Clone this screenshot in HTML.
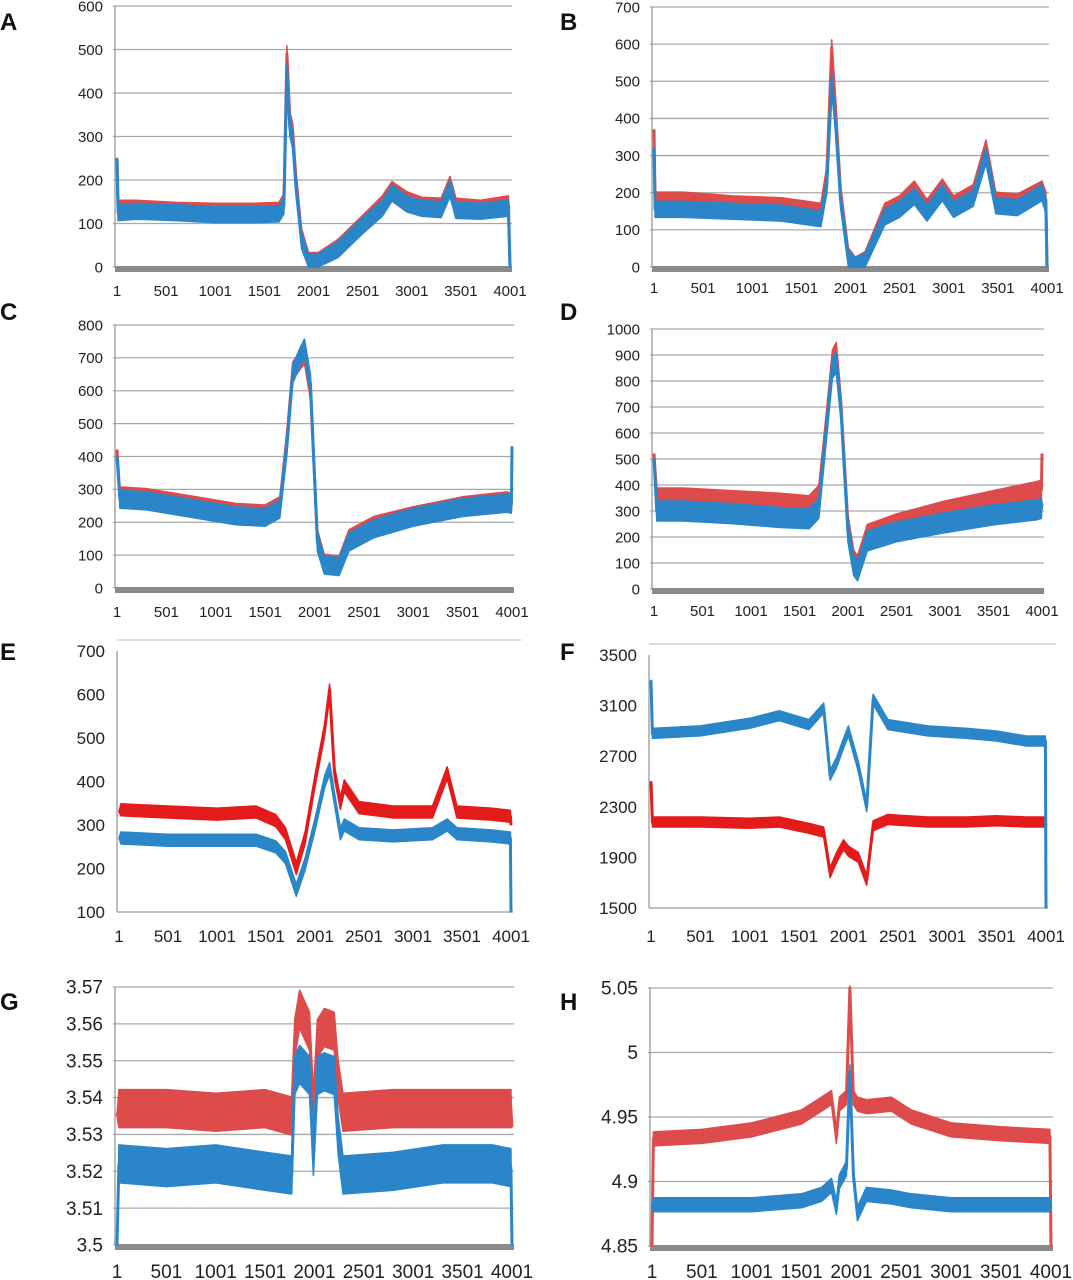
<!DOCTYPE html>
<html><head><meta charset="utf-8"><style>
body{margin:0;background:#fff}
svg{display:block;font-family:"Liberation Sans",sans-serif}
</style></head><body>
<svg id="fig" width="1073" height="1280" viewBox="0 0 1073 1280"></svg>
<script>
// Panel A
const aIdx=[1,12,200,600,1000,1400,1650,1700,1730,1760,1790,1820,1880,1950,2050,2250,2500,2700,2800,2950,3100,3300,3390,3450,3700,3985,4001];
const aRed=[250,135,135,130,128,128,130,150,490,340,310,210,70,15,15,45,100,145,178,155,142,140,190,140,135,145,0];
const aBlue=[250,125,128,125,120,120,122,140,450,320,290,190,60,12,12,40,95,135,170,145,135,132,180,130,128,135,0];
// Panel B
const bIdx=[1,12,300,800,1300,1700,1760,1810,1850,1900,1980,2050,2150,2350,2500,2650,2780,2935,3050,3250,3380,3480,3700,3950,3990,4001];
const bRed=[370,180,180,170,165,150,250,590,420,200,30,5,20,150,170,210,160,215,170,200,320,180,175,210,180,0];
const bBlue=[320,155,155,150,145,130,220,500,380,180,20,5,15,135,155,190,145,200,155,185,300,165,160,200,165,0];
// Panel C
const cIdx=[1,30,300,800,1200,1500,1650,1720,1780,1850,1900,1960,2030,2100,2250,2350,2600,3000,3500,3950,3995,4001];
const cRed=[420,280,275,250,230,225,250,450,660,690,710,600,150,75,70,150,190,220,250,265,260,260];
const cBlue=[400,270,265,240,220,215,240,430,650,700,730,620,140,70,65,140,180,215,245,258,255,430];
// Panel D
const dIdx=[1,30,300,800,1300,1600,1700,1780,1840,1880,1930,2000,2060,2100,2200,2500,3000,3500,3950,3995,4001];
const dRed=[520,350,350,340,330,320,360,650,880,910,700,250,110,90,210,250,300,340,375,380,520];
const dBlue=[500,300,300,290,275,270,310,620,850,870,680,220,90,70,185,220,255,285,305,310,330];
// Panel E
const eIdx=[1,20,500,1000,1400,1600,1700,1810,1900,2000,2100,2150,2200,2260,2300,2450,2800,3200,3350,3450,3800,3995,4001];
const eRed=[330,335,330,325,330,310,280,200,270,400,520,610,420,350,390,340,330,330,420,330,325,320,300];
const eBlue=[270,270,265,265,265,250,225,150,210,300,400,430,360,280,300,280,275,280,300,280,275,270,100];
// Panel F
const fIdx=[1,15,500,1000,1300,1600,1750,1815,1880,1950,2000,2100,2185,2250,2400,2800,3200,3500,3800,3995,4001];
const fBlue=[3300,2880,2900,2960,3020,2950,3080,2550,2650,2800,2900,2620,2300,3150,2950,2900,2880,2860,2820,2820,1500];
const fRed=[2500,2180,2180,2170,2180,2130,2100,1780,1900,2000,1950,1900,1720,2150,2200,2180,2180,2190,2180,2180,2150];
// Panel G
const gIdx=[1,20,500,1000,1500,1770,1800,1850,1950,1990,2030,2100,2200,2240,2290,2800,3300,3800,3990,4001];
const gRed=[3.535,3.537,3.537,3.536,3.537,3.535,3.556,3.564,3.558,3.536,3.556,3.559,3.558,3.545,3.536,3.537,3.537,3.537,3.537,3.532];
const gBlue=[3.5,3.522,3.521,3.522,3.52,3.519,3.546,3.549,3.546,3.524,3.546,3.547,3.546,3.53,3.519,3.52,3.522,3.522,3.521,3.5];
// Panel H
const hIdx=[1,15,500,1000,1500,1700,1800,1850,1880,1950,1985,2020,2060,2150,2400,2600,3000,3500,3990,4001];
const hRed=[4.85,4.933,4.935,4.94,4.95,4.96,4.965,4.935,4.96,4.965,5.05,4.965,4.96,4.958,4.96,4.95,4.94,4.937,4.935,4.85];
const hBlue=[4.88,4.882,4.882,4.882,4.885,4.89,4.897,4.88,4.9,4.91,4.985,4.905,4.875,4.89,4.888,4.885,4.882,4.882,4.882,4.88];
// ticks
const xTicks=["1","501","1001","1501","2001","2501","3001","3501","4001"];
const aTicks=[0,100,200,300,400,500,600];
const bTicks=[0,100,200,300,400,500,600,700];
const cTicks=[0,100,200,300,400,500,600,700,800];
const dTicks=[0,100,200,300,400,500,600,700,800,900,1000];
const eTicks=[100,200,300,400,500,600,700];
const fTicks=[1500,1900,2300,2700,3100,3500];
const gTicks=[3.5,3.51,3.52,3.53,3.54,3.55,3.56,3.57];
const hTicks=[4.85,4.9,4.95,5,5.05];

const NS="http://www.w3.org/2000/svg";
const svg=document.getElementById('fig');
function mk(tag,attrs,parent){const e=document.createElementNS(NS,tag);for(const k in attrs)e.setAttribute(k,attrs[k]);(parent||svg).appendChild(e);return e;}

const RED1="#dd4b4b",BLUE="#2a86c8",RED2="#e31b1b";
const panels=[
 {n:"a",L:"A",lx:0,ly:30,x1:117,x2:510,yT:6,yB:267,ticks:aTicks,idx:aIdx,red:aRed,blue:aBlue,grid:true,fs:15,xl:296,hb:8,red_c:RED1,bar:true},
 {n:"b",L:"B",lx:560,ly:30,x1:654,x2:1047,yT:7,yB:267,ticks:bTicks,idx:bIdx,red:bRed,blue:bBlue,grid:true,fs:15,xl:293,hb:8,red_c:RED1,bar:true},
 {n:"c",L:"C",lx:0,ly:320,x1:117,x2:512,yT:325,yB:588,ticks:cTicks,idx:cIdx,red:cRed,blue:cBlue,grid:true,fs:15,xl:617,hb:9,red_c:RED1,bar:true},
 {n:"d",L:"D",lx:560,ly:320,x1:654,x2:1042,yT:329,yB:589,ticks:dTicks,idx:dIdx,red:dRed,blue:dBlue,grid:true,fs:15,xl:616,hb:10,red_c:RED1,bar:true},
 {n:"e",L:"E",lx:0,ly:660,x1:119,x2:511,yT:651,yB:912,ticks:eTicks,idx:eIdx,red:eRed,blue:eBlue,grid:false,fs:17,xl:942,hb:6,red_c:RED2,bar:false},
 {n:"f",L:"F",lx:560,ly:660,x1:651,x2:1046,yT:655,yB:908,ticks:fTicks,idx:fIdx,red:fRed,blue:fBlue,grid:false,fs:17,xl:942,hb:5,red_c:RED2,bar:false},
 {n:"g",L:"G",lx:0,ly:1010,x1:117,x2:512,yT:987,yB:1245,ticks:gTicks,idx:gIdx,red:gRed,blue:gBlue,grid:true,fs:19,xl:1278,hb:19,red_c:RED1,bar:true},
 {n:"h",L:"H",lx:560,ly:1010,x1:652,x2:1051,yT:988,yB:1246,ticks:hTicks,idx:hIdx,red:hRed,blue:hBlue,grid:true,fs:19,xl:1278,hb:7,red_c:RED1,bar:true}
];
function fmt(v){return String(Number(v.toFixed(3)));}

panels.forEach(p=>{
  const g=mk('g',{});
  
  
  const ymin=p.ticks[0],ymax=p.ticks[p.ticks.length-1];
  const X=i=>p.x1+(i-1)/4000*(p.x2-p.x1);
  const Y=v=>p.yB-(v-ymin)/(ymax-ymin)*(p.yB-p.yT);
  const clampY=y=>Math.max(p.yT-2,Math.min(p.yB,y));
  const lab=mk('text',{x:p.lx+0,y:p.ly,'font-size':24,'font-weight':'bold',fill:'#111'},g);
  lab.textContent=p.L;
  
  
  p.ticks.forEach(t=>{
    if(p.grid){
      const gl=mk('line',{x1:p.x1-4,x2:p.x2+2,y1:Y(t),y2:Y(t),stroke:'#a9a9a9','stroke-width':1.3},g);
      
      
    }
    const tx=mk('text',{x:p.x1-14,y:Y(t)+p.fs*0.35,'font-size':p.fs,'text-anchor':'end',fill:'#222'},g);
    tx.textContent=fmt(t);
    
    
  });
  const ax=mk('line',{x1:p.x1-2,x2:p.x1-2,y1:p.yT,y2:p.yB,stroke:'#999','stroke-width':1.3},g);
  
  
  if(!p.grid){
    const top=mk('line',{x1:p.x1-2,x2:p.x2+10,y1:p.yT-11,y2:p.yT-11,stroke:'#bbb','stroke-width':1},g);
    
    
  }
  const xa=mk('line',{x1:p.x1-2,x2:p.x2+2,y1:p.yB+(p.bar?2:0),y2:p.yB+(p.bar?2:0),stroke:p.bar?'#8a8a8a':'#999','stroke-width':p.bar?6:1.3},g);
  
  
  xTicks.forEach((t,k)=>{
    const tx=mk('text',{x:X(1+k*500),y:p.xl,'font-size':p.fs,'text-anchor':'middle',fill:'#222'},g);
    tx.textContent=t;
    
    
  });
  [['red',p.red,p.red_c],['blue',p.blue,BLUE]].forEach(([nm,vals,col])=>{
    const n=p.idx.length;
    const top=[],bot=[];
    for(let k=0;k<n;k++){
      const x=X(p.idx[k]),y=Y(vals[k]);
      const edge=(k===0||k===n-1);
      const h=edge?0:p.hb;
      top.push(x.toFixed(1)+','+clampY(y-h).toFixed(1));
      bot.unshift(x.toFixed(1)+','+clampY(y+h).toFixed(1));
    }
    const band=mk('polygon',{points:top.concat(bot).join(' '),fill:col,stroke:col,'stroke-width':1.5,'stroke-linejoin':'round'},g);
    
    
    const pts=p.idx.map((i,k)=>X(i).toFixed(1)+','+Y(vals[k]).toFixed(1)).join(' ');
    const ln=mk('polyline',{points:pts,fill:'none',stroke:col,'stroke-width':3,'stroke-linejoin':'round'},g);
    
    
  });
});
</script>
</body></html>
